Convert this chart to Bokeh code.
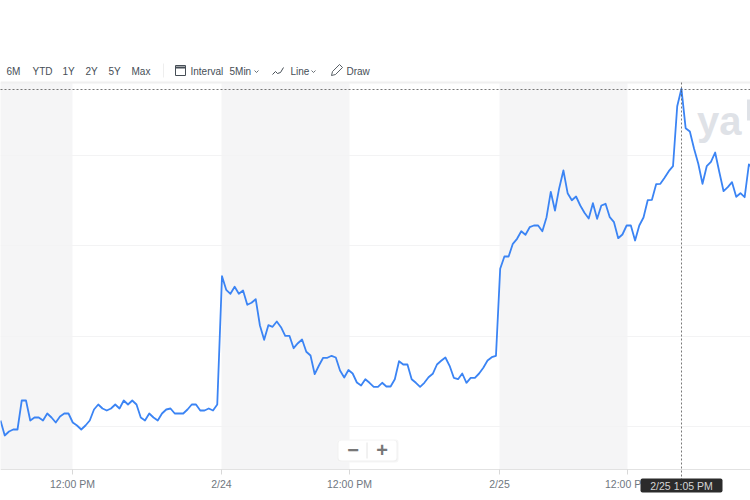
from bokeh.plotting import figure
from bokeh.models import Range1d, FixedTicker
from bokeh.core.properties import value
from bokeh.embed import file_html
from bokeh.resources import INLINE

# 5-minute closes (relative level; the reference shows no price scale)
close = [49,34,38,40,40,69,69,49,52,52,49,56,52,47,53,56,56,47,44,40,44,49,60,65,61,59,61,65,61,69,
65,69,65,52,49,56,52,49,56,60,61,56,56,56,60,65,65,59,59,61,59,65,
193.3,179.7,175.7,182.7,175.7,179,164.7,166.7,170.3,144,129.7,144.3,142.7,148,142.3,133.7,133.7,121.3,
126.3,130,117.7,114,95.3,104,111.7,111.7,113.7,112,99,92,99.5,96,87,84,
90.3,86.7,82.7,82.7,86.7,83,83,90.3,108.3,105,105,90.3,86.7,82.7,86.7,92.3,95.7,105,108.7,112,103.7,
91.7,90.3,96,86.7,91.7,91.7,96,101.7,109,112.3,113.7,
200.7,213,213,225.7,230.7,238.3,234.7,242.3,244,244,238.3,252.3,277.7,259,281.3,299,276.3,269.3,273,
264,256.7,251,266.3,250.7,264,265.7,252.3,247.3,231.3,235,244,244,229,244,252,269.3,269.7,285.3,285.7,
291.7,298.3,303.3,363.3,380.7,341.3,338,320.7,305.7,285.7,303.3,307.7,317,297.3,278.3,282.3,287.3,
272.7,276.3,272.3,305,301]
# bar positions: the first session's bars are spaced slightly wider than the later ones
bar = [i * 1.0083 if i < 52 else i + 0.55 for i in range(len(close))]

tick_bars = [17.08, 52.43, 82.8, 118.39, 148.75]
tick_labels = ["12:00 PM", "2/24", "12:00 PM", "2/25", "12:00 PM"]
band_start = [-1, 52.43, 118.39]
band_end = [17.08, 82.8, 148.75]
grid_levels = [43, 133.5, 224, 314]
hover_label = "2/25 1:05 PM"
toolbar_items = ["6M", "YTD", "1Y", "2Y", "5Y", "Max", "Interval", "5Min", "Line", "Draw"]
toolbar_left = [6, 32, 62, 85, 108, 131, 190, 229, 290, 346]

PX = 4.215
p = figure(width=750, height=500, output_backend="svg", toolbar_location=None,
           x_range=Range1d(0, 750 / PX), y_range=Range1d(-31, 469),
           min_border=0, min_border_left=0, min_border_right=0, min_border_top=0, min_border_bottom=0,
           outline_line_color=None, background_fill_color="white", border_fill_color="white")
p.extra_x_ranges["ui"] = Range1d(0, 750)
p.extra_y_ranges["ui"] = Range1d(500, 0)

p.yaxis.visible = False
p.xgrid.visible = False
p.ygrid.ticker = FixedTicker(ticks=grid_levels)
p.ygrid.grid_line_color = "#f3f3f4"
p.ygrid.level = "underlay"

ax = p.xaxis[0]
ax.fixed_location = 0
ax.ticker = FixedTicker(ticks=tick_bars)
ax.major_label_overrides = dict(zip(tick_bars, tick_labels))
ax.axis_line_color = "#e2e2e2"
ax.major_tick_line_color = "#d8d8d8"
ax.major_tick_in = 0
ax.major_tick_out = 5
ax.minor_tick_line_color = None
ax.major_label_text_font = "Liberation Sans"
ax.major_label_text_font_size = "10.5px"
ax.major_label_text_color = "#6f7780"
ax.major_label_standoff = 3

p.quad(left=band_start, right=band_end, bottom=0, top=387, fill_color="#f5f5f6", line_color=None, level="underlay")
p.line(bar, close, line_color="#3b84f4", line_width=1.8, line_join="round")

ui = dict(x_range_name="ui", y_range_name="ui")
# top rule of the plot area
p.line([0, 750], [82, 82], line_color="#f0f0f0", line_width=2, **ui)

# watermark
p.text([696.5], [120], text=["ya"], text_font=value("Liberation Sans"), text_font_style="bold",
       text_font_size="40px", text_color="#dfe2e7", text_baseline="alphabetic", **ui)
p.quad(left=[746.5], right=[751], top=[99], bottom=[120], fill_color="#dfe2e7", line_color=None, **ui)

# crosshair
p.line([0, 750], [89, 89], line_color="#555555", line_width=0.8, line_dash="2 2", level="overlay", **ui)
p.line([681, 681], [82, 479], line_color="#555555", line_width=0.8, line_dash="2 2", level="overlay", **ui)

# toolbar text
p.text(toolbar_left, [70.5] * len(toolbar_items), text=toolbar_items, text_font=value("Liberation Sans"),
       text_font_size="10px", text_color="#464e56", text_baseline="middle", **ui)
p.line([163, 163], [63, 77], line_color="#eeeeee", **ui)

# interval icon
p.quad(left=[175], right=[185], top=[65], bottom=[75], fill_color=None, line_color="#464e56", line_width=1, **ui)
p.line([175, 185], [67, 67], line_color="#464e56", line_width=2, **ui)
# chevrons
for cx in (256, 313):
    p.line([cx - 2, cx, cx + 2], [70, 72, 70], line_color="#464e56", line_width=0.8, **ui)
# line icon
p.line([272, 275, 277, 280, 283], [74, 71, 73, 72, 67], line_color="#464e56", line_width=1, **ui)
# pencil icon
p.line([331, 332, 339, 342, 335, 331], [75, 71, 64, 67, 74, 75], line_color="#464e56", line_width=0.9, **ui)

# zoom control
for grow, col in ((2, "#f6f6f6"), (1, "#f0f0f0")):
    p.quad(left=[338 - grow], right=[396 + grow], top=[440 - grow + 1], bottom=[460 + grow],
           fill_color=col, line_color=None, border_radius=3, level="overlay", **ui)
p.quad(left=[338], right=[396], top=[440], bottom=[460], fill_color="white", line_color=None,
       border_radius=3, level="overlay", **ui)
p.line([366.5, 366.5], [442, 458], line_color="#e4e4e4", level="overlay", **ui)
p.text([352.5, 381.5], [449.5, 449.5], text=["\u2212", "+"], text_font=value("Liberation Sans"),
       text_font_style="bold", text_font_size="20px", text_color="#777777", text_align="center",
       text_baseline="middle", level="overlay", **ui)

# hover time tag
p.quad(left=[640], right=[722], top=[478], bottom=[492], fill_color="#2b2b2b", line_color=None,
       border_radius=2, level="overlay", **ui)
p.text([681], [485.5], text=[hover_label], text_font=value("Liberation Sans"), text_font_size="10.5px",
       text_color="#d5d5d5", text_align="center", text_baseline="middle", level="overlay", **ui)

open("out.html", "w").write(file_html(p, INLINE))
